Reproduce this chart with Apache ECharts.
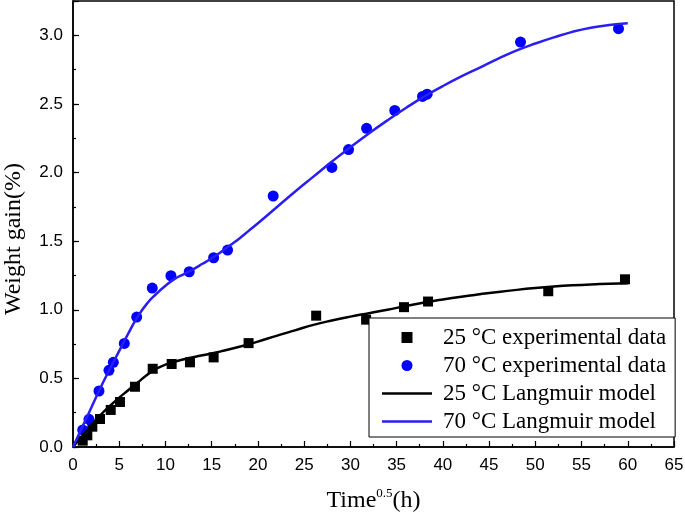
<!DOCTYPE html>
<html>
<head>
<meta charset="utf-8">
<script src="https://cdn.jsdelivr.net/npm/echarts@6/dist/echarts.min.js"></script>
<style>html,body{margin:0;padding:0;background:#fff}#c{width:685px;height:517px}</style>
</head>
<body>
<div id="c"></div>
<script>
// 25 °C experimental data
var exp25X = [1.05, 1.55, 2.09, 2.92, 4.08, 5.08, 6.70, 8.62, 10.67, 12.65, 15.21, 18.99, 26.3, 31.7, 35.8, 38.4, 51.4, 59.7];
var exp25Y = [0.046, 0.085, 0.148, 0.204, 0.27, 0.328, 0.439, 0.570, 0.605, 0.617, 0.653, 0.757, 0.957, 0.928, 1.019, 1.06, 1.135, 1.222];
// 70 °C experimental data
var exp70X = [1.05, 1.73, 2.81, 3.89, 4.36, 5.55, 6.89, 8.57, 10.59, 12.57, 15.21, 16.72, 21.65, 28.0, 29.8, 31.75, 34.8, 37.8, 38.3, 48.4, 59.0];
var exp70Y = [0.124, 0.202, 0.408, 0.559, 0.617, 0.755, 0.947, 1.158, 1.248, 1.277, 1.379, 1.435, 1.829, 2.037, 2.167, 2.322, 2.452, 2.555, 2.571, 2.951, 3.048];
// 25 °C Langmuir model
var fit25X = [0, 1, 2, 3, 4, 5, 6, 7, 8, 9, 10, 11, 12, 14, 16, 18, 20, 22, 24, 26, 28, 30, 32, 34, 36, 38, 40, 42, 44, 46, 48, 50, 52, 54, 56, 58, 60];
var fit25Y = [0, 0.08, 0.16, 0.235, 0.30, 0.36, 0.415, 0.47, 0.525, 0.57, 0.60, 0.622, 0.64, 0.668, 0.697, 0.73, 0.768, 0.81, 0.85, 0.89, 0.922, 0.95, 0.975, 1.0, 1.028, 1.053, 1.075, 1.095, 1.113, 1.13, 1.145, 1.158, 1.169, 1.178, 1.185, 1.19, 1.193];
// 70 °C Langmuir model
var fit70X = [0, 1, 2, 3, 4, 5, 6, 7, 8, 9, 10, 11, 12, 13, 14, 15, 16, 17, 18, 19, 20, 22, 24, 26, 28, 30, 32, 34, 36, 38, 40, 42, 44, 46, 48, 50, 52, 54, 56, 58, 60];
var fit70Y = [0, 0.145, 0.29, 0.435, 0.57, 0.70, 0.83, 0.95, 1.045, 1.115, 1.175, 1.225, 1.26, 1.295, 1.335, 1.375, 1.42, 1.47, 1.52, 1.575, 1.63, 1.745, 1.86, 1.97, 2.08, 2.185, 2.285, 2.38, 2.47, 2.555, 2.63, 2.70, 2.765, 2.83, 2.89, 2.94, 2.985, 3.025, 3.055, 3.075, 3.088];

var names = ['25 °C experimental data', '70 °C experimental data', '25 °C Langmuir model', '70 °C Langmuir model'];

function pairs(xs, ys) { return xs.map(function (x, i) { return [x, ys[i]]; }); }

var serif = 'Liberation Serif';
var sans = 'Liberation Sans';
var blueLine = '#2a1ef2';

var chart = echarts.init(document.getElementById('c'), null, { renderer: 'canvas' });
chart.setOption({
  animation: false,
  backgroundColor: '#fff',
  grid: { left: 73, right: 11, top: 1, bottom: 70, outerBoundsMode: 'none', show: true, borderColor: '#000', borderWidth: 1.5, backgroundColor: 'transparent' },
  legend: {
    orient: 'vertical', left: 369, top: 318,
    data: [
      { name: names[0], icon: 'path://M0,0L10,0L10,10L0,10Z', itemStyle: { color: '#000', opacity: 1 } },
      { name: names[1], icon: 'circle', itemStyle: { color: '#0000ff', opacity: 1 } },
      { name: names[2], icon: 'path://M0,0L50,0L50,2.4L0,2.4Z', itemStyle: { color: '#000' } },
      { name: names[3], icon: 'path://M0,0L50,0L50,2.4L0,2.4Z', itemStyle: { color: blueLine } }
    ],
    symbolKeepAspect: true,
    backgroundColor: '#fff', borderColor: '#000', borderWidth: 1,
    padding: [8, 9, 4, 13],
    itemWidth: 50, itemHeight: 11, itemGap: 5,
    textStyle: { fontFamily: serif, fontSize: 23, color: '#000', padding: [0, 0, 0, 6] }
  },
  xAxis: {
    type: 'value', min: 0, max: 65, interval: 5,
    name: '{t|Time}{s|0.5}{t|(h)}', nameLocation: 'middle', nameGap: 40,
    nameTextStyle: { rich: {
      t: { fontFamily: serif, fontSize: 24, color: '#000', lineHeight: 28 },
      s: { fontFamily: serif, fontSize: 13, color: '#000', verticalAlign: 'top', lineHeight: 28, padding: [0, 0, 10, 0] }
    } },
    axisLine: { lineStyle: { color: '#000', width: 1.5 } },
    axisTick: { inside: true, length: 6, lineStyle: { color: '#000', width: 1.2 } },
    minorTick: { show: true, splitNumber: 2, length: 3, lineStyle: { color: '#000', width: 1.2 } },
    axisLabel: { fontFamily: sans, fontSize: 17, color: '#000', margin: 10 },
    splitLine: { show: false }
  },
  yAxis: [{
    type: 'value', min: 0, max: 3.25, interval: 0.5,
    name: 'Weight gain(%)', nameLocation: 'middle', nameGap: 47,
    nameTextStyle: { fontFamily: serif, fontSize: 24, color: '#000', padding: [0, 30, 0, 0] },
    axisLine: { lineStyle: { color: '#000', width: 1.5 } },
    axisTick: { inside: true, length: 6, lineStyle: { color: '#000', width: 1.2 } },
    axisLabel: { fontFamily: sans, fontSize: 17, color: '#000', margin: 10,
      formatter: function (v) { return (Math.abs(v * 2 - Math.round(v * 2)) < 1e-6) ? v.toFixed(1) : ''; } },
    splitLine: { show: false }
  }, {
    type: 'value', min: 0, max: 3.25, interval: 0.25, position: 'left',
    axisLine: { show: false },
    axisTick: { inside: true, length: 3, lineStyle: { color: '#000', width: 1.2 } },
    axisLabel: { show: false },
    splitLine: { show: false }
  }],
  series: [
    { name: names[0], type: 'scatter', symbol: 'rect', symbolSize: 10, itemStyle: { color: '#000', opacity: 1 }, data: pairs(exp25X, exp25Y), z: 2 },
    { name: names[1], type: 'scatter', symbol: 'circle', symbolSize: 11, itemStyle: { color: '#0000ff', opacity: 1 }, data: pairs(exp70X, exp70Y), z: 2 },
    { name: names[2], type: 'line', smooth: 0.5, showSymbol: false, symbol: 'none', lineStyle: { color: '#000', width: 2.5 }, itemStyle: { color: '#000' }, data: pairs(fit25X, fit25Y), z: 3 },
    { name: names[3], type: 'line', smooth: 0.5, showSymbol: false, symbol: 'none', lineStyle: { color: blueLine, width: 2.5 }, itemStyle: { color: blueLine }, data: pairs(fit70X, fit70Y), z: 3 }
  ]
});
</script>
</body>
</html>
